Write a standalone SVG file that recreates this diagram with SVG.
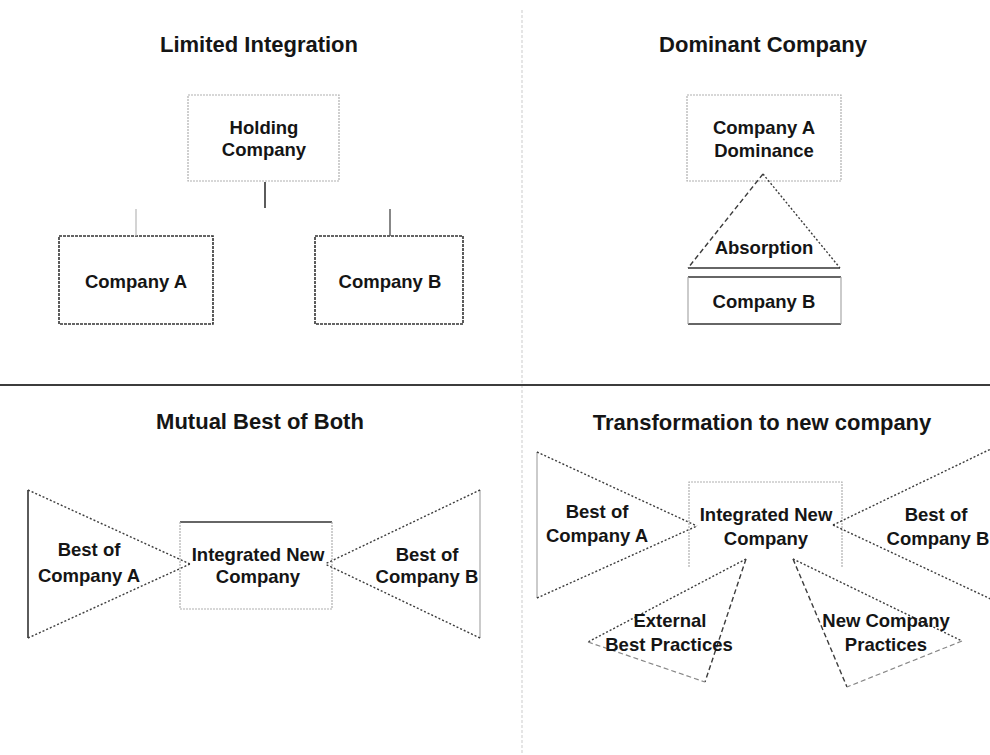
<svg xmlns="http://www.w3.org/2000/svg" width="990" height="755" viewBox="0 0 990 755">
  <style>
    .title { font-family: "Liberation Sans", Arial, sans-serif; font-size: 22px; font-weight: bold; fill: #151515; text-anchor: middle; }
    .lbl { font-family: "Liberation Sans", Arial, sans-serif; font-size: 18.5px; font-weight: bold; fill: #151515; text-anchor: middle; }
    .box-light { fill: none; stroke: #b0b0b0; stroke-width: 1.2; stroke-dasharray: 2 1; }
    .box-dark { fill: none; stroke: #333; stroke-width: 1.6; stroke-dasharray: 3 1; }
    .solid-dark { fill: none; stroke: #333; stroke-width: 1.6; }
    .solid-light { fill: none; stroke: #a8a8a8; stroke-width: 1.2; }
    .dot { fill: none; stroke: #3c3c3c; stroke-width: 1.4; stroke-dasharray: 2 2; }
    .dash { fill: none; stroke: #3c3c3c; stroke-width: 1.4; stroke-dasharray: 5 3; }
    .dash-light { fill: none; stroke: #888; stroke-width: 1.2; stroke-dasharray: 5 3; }
  </style>

  <rect width="990" height="755" fill="#ffffff"/>

  <!-- quadrant dividers -->
  <g id="dividers">
    <line x1="522" y1="10" x2="522" y2="755" stroke="#d4d4d4" stroke-width="1.2" stroke-dasharray="3 2"/>
    <line x1="0" y1="385" x2="990" y2="385" stroke="#3c3c3c" stroke-width="1.8"/>
  </g>

  <!-- section titles -->
  <g id="titles">
    <text class="title" x="259" y="52">Limited Integration</text>
    <text class="title" x="763" y="52">Dominant Company</text>
    <text class="title" x="260" y="429">Mutual Best of Both</text>
    <text class="title" x="762" y="430">Transformation to new company</text>
  </g>

  <!-- Limited Integration -->
  <g id="holding-company">
    <rect class="box-light" x="188" y="95" width="151" height="86"/>
    <text class="lbl" x="264" y="134">Holding</text>
    <text class="lbl" x="264" y="156">Company</text>
  </g>
  <g id="li-company-a">
    <rect class="box-dark" x="59" y="236" width="154" height="88"/>
    <text class="lbl" x="136" y="288">Company A</text>
  </g>
  <g id="li-company-b">
    <rect class="box-dark" x="315" y="236" width="148" height="88"/>
    <text class="lbl" x="390" y="288">Company B</text>
  </g>

  <!-- Dominant Company -->
  <g id="dominance">
    <rect class="box-light" x="687" y="95" width="154" height="86"/>
    <text class="lbl" x="764" y="134">Company A</text>
    <text class="lbl" x="764" y="157">Dominance</text>
  </g>
  <g id="absorption">
    <line class="dash" x1="763" y1="174" x2="688" y2="268"/>
    <line class="dot" x1="763" y1="174" x2="840" y2="268"/>
    <line class="solid-dark" x1="688" y1="268" x2="840" y2="268" stroke-width="2"/>
    <text class="lbl" x="764" y="254">Absorption</text>
  </g>
  <g id="dc-company-b">
    <line class="solid-dark" x1="688" y1="277" x2="841" y2="277"/>
    <line class="solid-dark" x1="688" y1="324" x2="841" y2="324"/>
    <line class="solid-light" x1="688" y1="277" x2="688" y2="324"/>
    <line class="solid-light" x1="841" y1="277" x2="841" y2="324"/>
    <text class="lbl" x="764" y="308">Company B</text>
  </g>

  <!-- Mutual Best of Both -->
  <g id="mb-best-a">
    <line class="solid-dark" x1="28" y1="490" x2="28" y2="638"/>
    <line class="dot" x1="28" y1="490" x2="190" y2="564"/>
    <line class="dot" x1="28" y1="638" x2="190" y2="564"/>
    <text class="lbl" x="89" y="556">Best of</text>
    <text class="lbl" x="89" y="582">Company A</text>
  </g>
  <g id="mb-integrated">
    <line class="solid-dark" x1="180" y1="522" x2="332" y2="522"/>
    <path class="box-light" d="M180,522 V609 H332 V522"/>
    <text class="lbl" x="258" y="561">Integrated New</text>
    <text class="lbl" x="258" y="583">Company</text>
  </g>
  <g id="mb-best-b">
    <line class="solid-light" x1="480" y1="490" x2="480" y2="638"/>
    <line class="dot" x1="480" y1="490" x2="325" y2="564"/>
    <line class="dot" x1="480" y1="638" x2="325" y2="564"/>
    <text class="lbl" x="427" y="561">Best of</text>
    <text class="lbl" x="427" y="583">Company B</text>
  </g>

  <!-- Transformation to new company -->
  <g id="tr-best-a">
    <line class="solid-light" x1="537" y1="452" x2="537" y2="598"/>
    <line class="dot" x1="537" y1="452" x2="697" y2="526"/>
    <line class="dot" x1="537" y1="598" x2="697" y2="526"/>
    <text class="lbl" x="597" y="518">Best of</text>
    <text class="lbl" x="597" y="542">Company A</text>
  </g>
  <g id="tr-integrated">
    <path class="box-light" d="M689,567 V482 H842 V567" stroke="#a0a0a0"/>
    <text class="lbl" x="766" y="521">Integrated New</text>
    <text class="lbl" x="766" y="545">Company</text>
  </g>
  <g id="tr-best-b">
    <line class="dot" x1="833" y1="525" x2="995" y2="447"/>
    <line class="dot" x1="833" y1="525" x2="995" y2="601"/>
    <text class="lbl" x="936" y="521">Best of</text>
    <text class="lbl" x="938" y="545">Company B</text>
  </g>
  <g id="tr-external">
    <line class="dash" x1="746" y1="559" x2="705" y2="682"/>
    <line class="dot" x1="746" y1="559" x2="588" y2="642"/>
    <line class="dash-light" x1="588" y1="642" x2="705" y2="682"/>
    <text class="lbl" x="670" y="627">External</text>
    <text class="lbl" x="669" y="651">Best Practices</text>
  </g>
  <g id="tr-new-practices">
    <line class="dash" x1="793" y1="559" x2="847" y2="687"/>
    <line class="dot" x1="793" y1="559" x2="962" y2="641"/>
    <line class="dash-light" x1="962" y1="641" x2="847" y2="687"/>
    <text class="lbl" x="886" y="627">New Company</text>
    <text class="lbl" x="886" y="651">Practices</text>
  </g>

  <!-- connectors of the holding structure -->
  <g id="connectors">
    <line x1="265" y1="182" x2="265" y2="208" stroke="#333" stroke-width="1.6"/>
    <line x1="136" y1="209" x2="136" y2="236" stroke="#b8b8b8" stroke-width="1.2"/>
    <line x1="390" y1="209" x2="390" y2="236" stroke="#555" stroke-width="1.4"/>
  </g>
</svg>
